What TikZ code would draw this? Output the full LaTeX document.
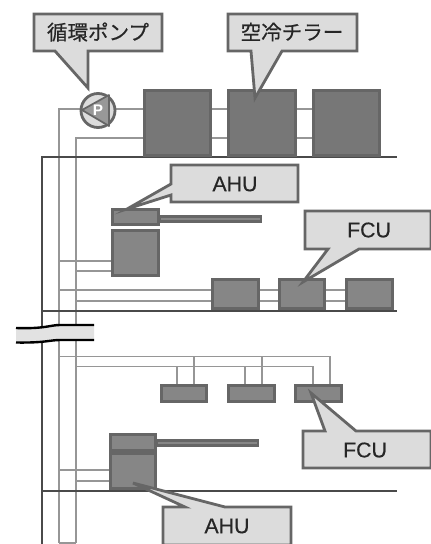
\documentclass[tikz,border=0pt]{standalone}
\usepackage{fontspec}
\setmainfont[FakeBold=0.35]{Liberation Sans}
\newfontfamily\jpfont[FakeBold=0.5]{Noto Sans CJK JP}
\newfontfamily\plainfont{Liberation Sans}
% #3..#6 are the outer edges of the box, border included (2pt border = 2.67 units)
\newcommand{\unitbox}[6]{%
  \pgfmathsetmacro{\bw}{(#5-#3-2.67)*0.75}\pgfmathsetmacro{\bh}{(#6-#4-2.67)*0.75}%
  \node[#1,minimum width=\bw pt,minimum height=\bh pt] (#2) at ({(#3+#5)/2},{(#4+#6)/2}) {};}
\tikzset{
  x=0.75pt,y=-0.75pt,
  unitbase/.style={draw=boxedge,rectangle,inner sep=0pt,outer sep=0pt,line width=2pt},
  chiller/.style={unitbase,fill=chillerfill},
  unitfill/.style={unitbase,fill=unitgray},
  pipe/.style={draw=pipegray,line width=1.1pt},
  floorline/.style={draw=floorgray,line width=1.2pt},
  calloutbody/.style={draw=calloutedge,fill=calloutfill,line width=2.1pt,line join=miter},
  calloutlabel/.style={font=\fontsize{16pt}{16pt}\selectfont,text=black!85,inner sep=0pt},
  jplabel/.style={font=\jpfont\fontsize{15.4pt}{15.4pt}\selectfont,text=black!85,inner sep=0pt},
  breakedge/.style={draw=black,line width=1.8pt},
}
\definecolor{boxedge}{HTML}{666666}
\definecolor{chillerfill}{HTML}{777777}
\definecolor{unitgray}{HTML}{868686}
\definecolor{pipegray}{HTML}{969696}
\definecolor{floorgray}{HTML}{4A4A4A}
\definecolor{calloutedge}{HTML}{666666}
\definecolor{calloutfill}{HTML}{DCDCDC}
\definecolor{bandfill}{HTML}{E2E2E2}
\begin{document}
\begin{tikzpicture}
\useasboundingbox (0,0) rectangle (430,544);
\fill[white] (0,0) rectangle (430,544);
% named ends of risers and floors
\coordinate (wallTop) at (42,157);
\coordinate (wallBot) at (42,544);
\coordinate (floorAR) at (397,157);
\coordinate (floorBL) at (42,311);
\coordinate (floorBR) at (397,311);
\coordinate (floorCL) at (42,491);
\coordinate (floorCR) at (397,491);
\coordinate (riserA) at (59,109);
\coordinate (riserB) at (76,138);
\coordinate (riserABot) at (59,543);
\coordinate (riserBBot) at (76,543);
% pipes (under the equipment)
\draw[pipe] (riserABot) -- (riserA) -- (143,109) -- (381,109);
\draw[pipe] (riserBBot) -- (riserB) -- (381,138);
\draw[pipe] (riserABot) -- (riserBBot);
\draw[pipe] (59,261) -- (111,261);
\draw[pipe] (76,271) -- (111,271);
\draw[pipe] (59,290) -- (394,290);
\draw[pipe] (76,301) -- (394,301);
\draw[pipe] (59,356.5) -- (330,356.5) -- (330,384);
\draw[pipe] (76,366.5) -- (313,366.5) -- (313,384);
\draw[pipe] (177,366.5) -- (177,384);
\draw[pipe] (194,356.5) -- (194,384);
\draw[pipe] (245,366.5) -- (245,384);
\draw[pipe] (262,356.5) -- (262,384);
\draw[pipe] (59,470) -- (109,470);
\draw[pipe] (76,481) -- (109,481);
% structure
\draw[floorline] (wallBot) -- (wallTop) -- (floorAR);
\draw[floorline] (floorBL) -- (floorBR);
\draw[floorline] (floorCL) -- (floorCR);
% chillers
\unitbox{chiller}{chillerA}{143}{89}{212}{157}
\unitbox{chiller}{chillerB}{227}{89}{297}{157}
\unitbox{chiller}{chillerC}{312}{89}{381}{157}
% pump
\node[circle,draw=boxedge,fill=calloutfill,line width=2.1pt,minimum size=25.5pt,inner sep=0pt] (pump) at (98,110.5) {};
\fill[unitgray!85!white,draw=boxedge,line width=1.3pt,line join=round] (82,110) -- (109,95) -- (109,126) -- cycle;
\node[font=\plainfont\bfseries\fontsize{11.5pt}{11.5pt}\selectfont,text=white,inner sep=0pt] (pumpP) at (98,110.5) {P};
% upper AHU
\draw[draw=boxedge,fill=unitgray,line width=2pt] (160,216.5) rectangle (261,221.5);
\unitbox{unitfill}{ahuAtop}{111}{208}{160}{226}
\unitbox{unitfill}{ahuAbot}{111}{229}{160}{277}
% upper FCUs
\unitbox{unitfill}{fcuA}{211}{278}{260}{310}
\unitbox{unitfill}{fcuB}{278}{278}{326}{310}
\unitbox{unitfill}{fcuC}{345}{278}{394}{310}
% lower FCUs
\unitbox{unitfill}{fcuD}{160}{384}{208}{403}
\unitbox{unitfill}{fcuE}{227}{384}{276}{403}
\unitbox{unitfill}{fcuF}{294}{384}{343}{403}
% lower AHU
\draw[draw=boxedge,fill=unitgray,line width=2pt] (157,440.5) rectangle (258,445.5);
\unitbox{unitfill}{ahuBtop}{109}{433}{157}{452}
\unitbox{unitfill}{ahuBbot}{109}{452}{157}{490}
% break mark
\fill[bandfill] (16,328) .. controls (45,329) and (50,325) .. (60,325) -- (94,325) -- (94,340)
  -- (60,340) .. controls (50,340) and (45,343) .. (16,342.5) -- cycle;
\draw[breakedge] (16,328) .. controls (45,329) and (50,325) .. (60,325) -- (94,325);
\draw[breakedge] (16,342.5) .. controls (45,343) and (50,340) .. (60,340) -- (94,340);
% callouts
\draw[calloutbody] (34,14) -- (162,14) -- (162,51) -- (88,51) -- (88,88) -- (55,51) -- (34,51) -- cycle;
\node[jplabel] (calloutPump) at (98,32) {循環ポンプ};
\draw[calloutbody] (228,14) -- (357,14) -- (357,51) -- (282,51) -- (255,98) -- (251,51) -- (228,51) -- cycle;
\node[jplabel] (calloutChiller) at (292,32) {空冷チラー};
\draw[calloutbody] (171,165) -- (298,165) -- (298,202) -- (171,202) -- (171,195) -- (127,209) -- (171,184) -- cycle;
\node[calloutlabel] (calloutAhuA) at (235,184) {AHU};
\draw[calloutbody] (305,211) -- (431,211) -- (431,249) -- (359,249) -- (303,282) -- (328,249) -- (305,249) -- cycle;
\node[calloutlabel] (calloutFcuA) at (369,230) {FCU};
\draw[calloutbody] (303,431) -- (325,431) -- (311,393) -- (356,431) -- (431,431) -- (431,468) -- (303,468) -- cycle;
\node[calloutlabel] (calloutFcuB) at (365,450) {FCU};
\draw[calloutbody] (163,507) -- (185,507) -- (133,483) -- (225,507) -- (291,507) -- (291,545) -- (163,545) -- cycle;
\node[calloutlabel] (calloutAhuB) at (227,526) {AHU};
\end{tikzpicture}
\end{document}
